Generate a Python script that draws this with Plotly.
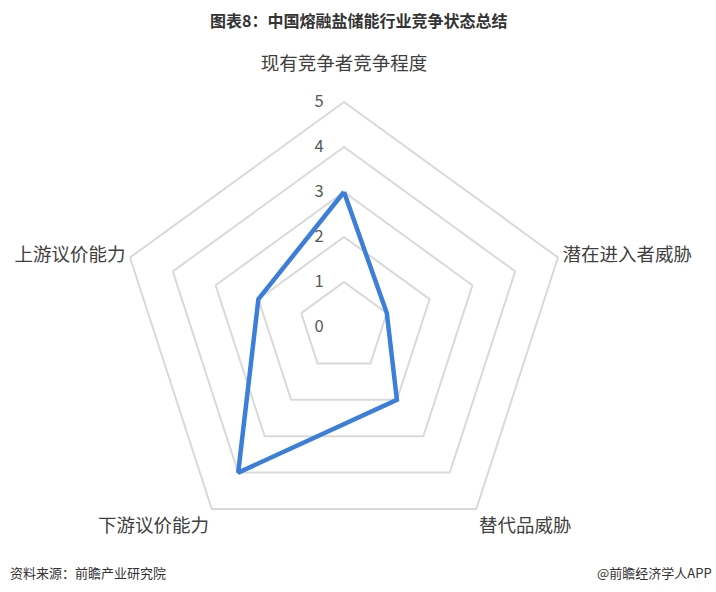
import plotly.graph_objects as go

categories = ["现有竞争者竞争程度", "潜在进入者威胁", "替代品威胁", "下游议价能力", "上游议价能力"]
values = [3, 1, 2, 4, 2]
radial_ticks = [0, 1, 2, 3, 4, 5]

FONT = "Noto Sans CJK SC, Microsoft YaHei, sans-serif"
W, H = 716, 592
cx, cy, R = 344, 327, 225

fig = go.Figure()
fig.add_trace(go.Scatterpolar(
    r=values + values[:1],
    theta=categories + categories[:1],
    mode="lines",
    line=dict(color="#3c7fd9", width=4.5),
    hoverinfo="skip",
))

# push the top label a little higher, like the reference
ticktext = [categories[0] + "<br><span style='font-size:8px'> </span>"] + categories[1:]

fig.update_layout(
    width=W, height=H,
    margin=dict(l=0, r=0, t=0, b=0),
    paper_bgcolor="white",
    plot_bgcolor="white",
    showlegend=False,
    font=dict(family=FONT, color="#404040"),
    polar=dict(
        domain=dict(x=[(cx - R) / W, (cx + R) / W], y=[1 - (cy + R) / H, 1 - (cy - R) / H]),
        gridshape="linear",
        bgcolor="white",
        angularaxis=dict(
            rotation=90, direction="clockwise",
            showgrid=False, showline=True, linecolor="#d9d9d9", linewidth=2,
            tickmode="array", tickvals=categories, ticktext=ticktext,
            ticks="", tickfont=dict(size=18.5, color="#404040", family=FONT),
        ),
        radialaxis=dict(
            range=[0, 5], tickvals=radial_ticks, angle=90,
            showline=False, ticks="outside", ticklen=14, tickcolor="rgba(0,0,0,0)",
            gridcolor="#d9d9d9", gridwidth=2,
            tickfont=dict(size=16.5, color="#595959", family=FONT),
            side="counterclockwise", tickangle=90,
        ),
    ),
    annotations=[
        dict(text="<b>图表8：中国熔融盐储能行业竞争状态总结</b>", x=0.5, y=1 - 20 / H,
             xref="paper", yref="paper", showarrow=False, xanchor="center", yanchor="middle",
             font=dict(size=16, color="#333333", family=FONT)),
        dict(text="资料来源：前瞻产业研究院", x=8 / W, y=1 - 572 / H, xref="paper", yref="paper",
             showarrow=False, xanchor="left", yanchor="middle",
             font=dict(size=13, color="#333333", family=FONT)),
        dict(text="@前瞻经济学人APP", x=714 / W, y=1 - 572 / H, xref="paper", yref="paper",
             showarrow=False, xanchor="right", yanchor="middle",
             font=dict(size=13, color="#333333", family=FONT)),
    ],
)

fig.write_html("out.html", config={"displayModeBar": False},
               post_script="document.body.style.margin='0';")
